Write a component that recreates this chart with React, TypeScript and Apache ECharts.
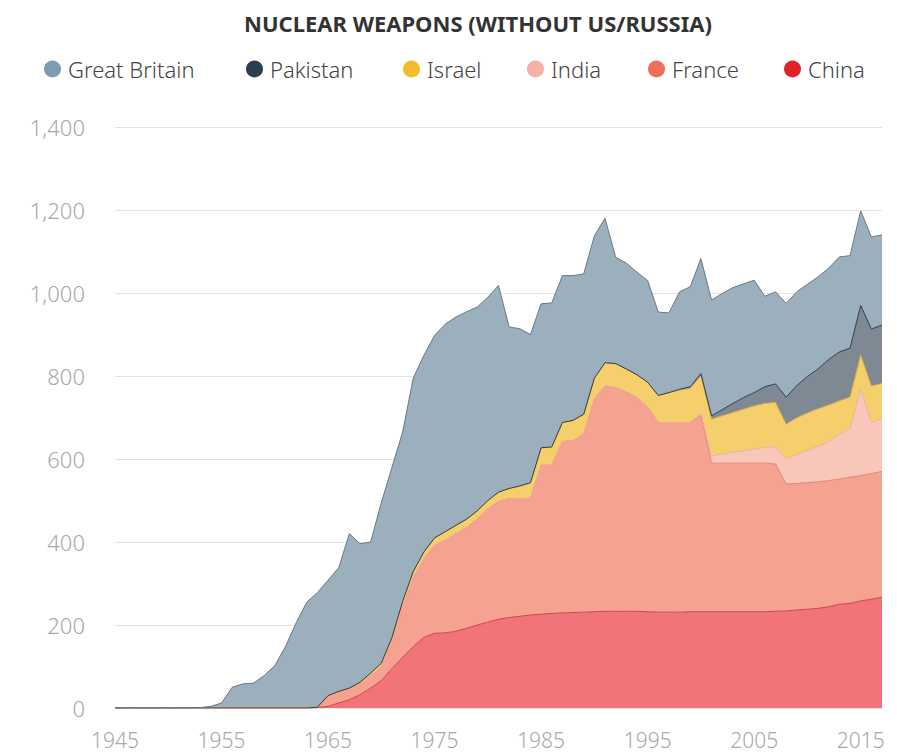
import React, { useEffect, useRef } from "react";
import * as echarts from "echarts";

const years: string[] = Array.from({ length: 73 }, (_, i) => String(1945 + i));

const z = (n: number) => new Array(n).fill(0);

// 1945..2017
const china = [
  ...z(19),
  1, 4, 12, 20, 32, 48, 66, 95, 122, 148,
  170, 180, 181, 185, 192, 200, 207, 214, 218, 221,
  224, 226, 228, 229, 230, 231, 232, 233, 233, 233,
  233, 232, 231, 231, 231, 232, 232, 232, 232, 232,
  232, 232, 232, 233, 234, 236, 238, 240, 244, 250,
  252, 258, 262, 267,
];
const france = [
  ...z(19),
  1, 26, 28, 26, 26, 30, 34, 65, 123, 167,
  190, 212, 224, 235, 243, 255, 273, 284, 287, 284,
  281, 359, 357, 413, 415, 429, 513, 543, 539, 529,
  515, 493, 457, 457, 457, 456, 473, 358, 358, 358,
  358, 358, 358, 355, 306, 305, 305, 305, 304, 302,
  304, 302, 303, 303,
];
const india = [
  ...z(55),
  5, 18, 22, 26, 30, 34, 38, 42, 60, 70, 78, 86, 94, 108, 118, 210, 123, 128,
];
const israel = [
  ...z(22),
  2, 4, 6, 8, 10, 12, 14, 16, 18, 20,
  20, 20, 20, 20, 22, 24, 30, 38, 42, 44,
  46, 48, 48, 50, 56, 58, 55, 55, 60, 65,
  72, 78, 82, 90, 88, 92, 96, 100, 104, 106,
  106, 84, 88, 90, 90, 88, 80, 75, 80, 88,
  84,
];
const pakistan = [
  ...z(53),
  2, 4, 6, 8, 15, 22, 28, 32, 40, 45, 65, 78, 88, 96, 110, 118, 118, 120, 137, 141,
];
const greatBritain = [
  ...z(8),
  1, 4, 12, 50, 58, 60, 78, 102, 148, 205,
  255, 276, 278, 298, 372, 334, 316, 387, 410, 408,
  466, 474, 488, 500, 502, 500, 491, 490, 498, 389,
  379, 357, 347, 347, 354, 349, 338, 343, 348, 256,
  255, 247, 245, 201, 192, 235, 241, 277, 279, 280,
  279, 274, 271, 218, 222, 226, 226, 222, 222, 220,
  229, 223, 228, 222, 217,
];

const legendOrder = ["Great Britain", "Pakistan", "Israel", "India", "France", "China"];

const seriesDefs = [
  { name: "China", data: china, dot: "#e0222b", fill: "#f17479", line: "#c9464e" },
  { name: "France", data: france, dot: "#ee7056", fill: "#f5a291", line: "#e38672" },
  { name: "India", data: india, dot: "#f6b1a3", fill: "#f9c7ba", line: "#f0ae9f" },
  { name: "Israel", data: israel, dot: "#f3bc2e", fill: "#f5cf6b", line: "#d9ad45" },
  { name: "Pakistan", data: pakistan, dot: "#2c3d4f", fill: "#7e8994", line: "#2c3d4f" },
  { name: "Great Britain", data: greatBritain, dot: "#7e9bb0", fill: "#9cafbc", line: "#66788a" },
];

const FONT = "'Noto Sans', sans-serif";

// left edge of each legend marker
const legendLeft = [39, 241, 398, 522, 643, 779];

export default function App() {
  const ref = useRef<HTMLDivElement>(null);
  useEffect(() => {
    if (!ref.current) return;
    const chart = echarts.init(ref.current, undefined, { renderer: "svg" });
    chart.setOption({
      animation: false,
      backgroundColor: "#ffffff",
      graphic: [
        {
          type: "text",
          left: 244,
          top: 12,
          style: {
            text: "NUCLEAR WEAPONS (WITHOUT US/RUSSIA)",
            fontFamily: FONT,
            fontWeight: "bold",
            fontSize: 22,
            fill: "#333333",
          },
        },
      ],
      legend: legendOrder.map((name, i) => ({
        data: [name],
        left: legendLeft[i],
        top: 53,
        icon: "circle",
        itemWidth: 17,
        itemHeight: 17,
        selectedMode: false,
        textStyle: {
          fontFamily: FONT,
          fontSize: 22,
          color: "#444444",
          fontWeight: 300,
          padding: [0, 0, 0, 2],
        },
      })),
      grid: { left: 115, right: 15, top: 127, bottom: 46, containLabel: false },
      xAxis: {
        type: "category",
        data: years,
        boundaryGap: false,
        axisLine: { show: false },
        axisTick: { show: false },
        splitLine: { show: false },
        axisLabel: {
          interval: 9,
          margin: 21,
          fontFamily: FONT,
          fontSize: 21,
          lineHeight: 22,
          fontWeight: 300,
          color: "#a8a8a8",
        },
      },
      yAxis: {
        type: "value",
        min: 0,
        max: 1400,
        interval: 200,
        axisLine: { show: false },
        axisTick: { show: false },
        splitLine: { lineStyle: { color: "#e4e4e4", width: 1 } },
        axisLabel: {
          margin: 30,
          fontFamily: FONT,
          fontSize: 22,
          fontWeight: 300,
          color: "#a8a8a8",
          formatter: (v: number) => v.toLocaleString("en-US"),
        },
      },
      series: seriesDefs.map((s) => ({
        name: s.name,
        type: "line",
        stack: "total",
        data: s.data,
        showSymbol: false,
        symbol: "none",
        itemStyle: { color: s.dot },
        lineStyle: { color: s.line, width: 1 },
        areaStyle: { color: s.fill, opacity: 1 },
        emphasis: { disabled: true },
      })),
    });
    return () => chart.dispose();
  }, []);
  return (
    <div
      ref={ref}
      style={{ position: "absolute", left: 0, top: 0, width: 897, height: 754 }}
    />
  );
}
